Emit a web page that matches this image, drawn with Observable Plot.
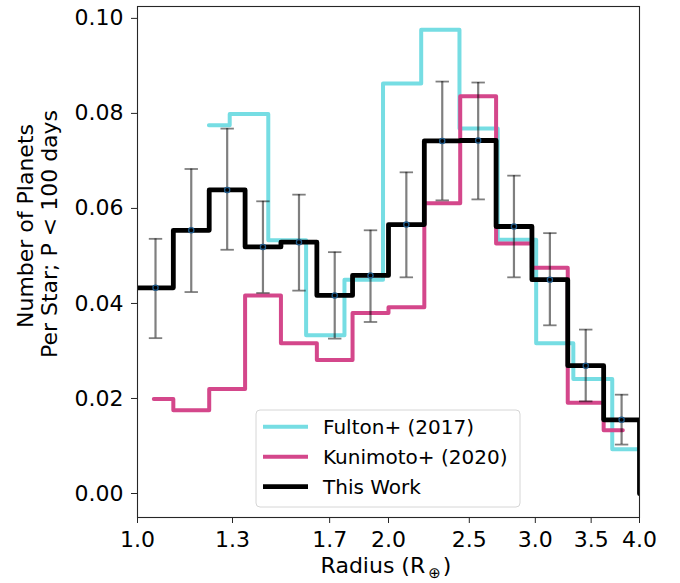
<!DOCTYPE html>
<html>
<head>
<meta charset="utf-8">
<script src="https://cdn.jsdelivr.net/npm/d3@7"></script>
<script src="https://cdn.jsdelivr.net/npm/@observablehq/plot@0.6"></script>
<style>
  html, body { margin: 0; padding: 0; background: #fff; }
  #chart { width: 680px; height: 583px; }
</style>
</head>
<body>
<div id="chart"></div>
<script>
// ---- data ----
// This Work: bin edges (R_earth) and occurrence per bin
const workEdges = [1.0, 1.104, 1.219, 1.346, 1.486, 1.641, 1.811, 2.0, 2.208, 2.438, 2.692, 2.972, 3.281, 3.623, 4.0];
const workValues = [0.0433, 0.0554, 0.0639, 0.0519, 0.0529, 0.0417, 0.0459, 0.0566, 0.0742, 0.0743, 0.0562, 0.0450, 0.0269, 0.0155];
const workCenters = [1.051, 1.160, 1.281, 1.414, 1.562, 1.724, 1.903, 2.101, 2.320, 2.562, 2.828, 3.123, 3.448, 3.807];
const workErrHi = [0.0536, 0.0683, 0.0768, 0.0615, 0.0629, 0.0508, 0.0554, 0.0676, 0.0867, 0.0865, 0.0669, 0.0548, 0.0345, 0.0208];
const workErrLo = [0.0327, 0.0424, 0.0513, 0.0422, 0.0427, 0.0326, 0.0361, 0.0455, 0.0617, 0.0619, 0.0455, 0.0354, 0.0194, 0.0103];

// Fulton+ (2017): step edges and values
const fultonEdges = [1.218, 1.290, 1.435, 1.593, 1.771, 1.970, 2.189, 2.433, 2.704, 3.007, 3.332, 3.710, 3.98];
const fultonValues = [0.0775, 0.0799, 0.0533, 0.0333, 0.0450, 0.0863, 0.0976, 0.0768, 0.0534, 0.0316, 0.0241, 0.0093];

// Kunimoto+ (2020): step edges and values
const kuniEdges = [1.046, 1.104, 1.219, 1.346, 1.486, 1.641, 1.811, 2.0, 2.208, 2.438, 2.692, 2.972, 3.281, 3.623, 3.82];
const kuniValues = [0.0199, 0.0175, 0.0220, 0.0417, 0.0316, 0.0281, 0.0380, 0.0392, 0.0611, 0.0836, 0.0526, 0.0475, 0.0191, 0.0133];

const xTicks = [1.0, 1.3, 1.7, 2.0, 2.5, 3.0, 3.5, 4.0];
const yTicks = [0.00, 0.02, 0.04, 0.06, 0.08, 0.10];

const legendLabels = ["Fulton+ (2017)", "Kunimoto+ (2020)", "This Work"];
const colors = {fulton: "#76dde3", kuni: "#d4478b", work: "#000000"};

// ---- build step tables ----
function stepTable(edges, values, closeToZero) {
  const pts = values.map((v, i) => ({x: edges[i], y: v}));
  pts.push({x: edges[edges.length - 1], y: values[values.length - 1]});
  if (closeToZero) pts.push({x: edges[edges.length - 1], y: 0});
  return pts;
}
const fultonPts = stepTable(fultonEdges, fultonValues, false);
const kuniPts = stepTable(kuniEdges, kuniValues, false);
const workPts = stepTable(workEdges, workValues, true);
const errTable = workCenters.map((c, i) => ({x: c, y: workValues[i], lo: workErrLo[i], hi: workErrHi[i]}));

// horizontal cap symbol for error bars
const capSymbol = {
  draw(ctx, size) {
    const r = Math.sqrt(size / Math.PI);
    ctx.moveTo(-r, 0);
    ctx.lineTo(r, 0);
  }
};

const chart = Plot.plot({
  width: 680,
  height: 583,
  marginLeft: 137,
  marginRight: 41,
  marginTop: 6,
  marginBottom: 66,
  x: {type: "log", domain: [1, 4]},
  y: {domain: [-0.00505, 0.1025]},
  style: {fontFamily: "DejaVu Sans", fontSize: "22px", color: "#000", background: "#fff"},
  marks: [
    Plot.line(fultonPts, {x: "x", y: "y", curve: "step-after", stroke: colors.fulton, strokeWidth: 4, strokeLinejoin: "round", clip: true}),
    Plot.line(kuniPts, {x: "x", y: "y", curve: "step-after", stroke: colors.kuni, strokeWidth: 4, strokeLinejoin: "round", clip: true}),
    Plot.line(workPts, {x: "x", y: "y", curve: "step-after", stroke: colors.work, strokeWidth: 4.8, strokeLinejoin: "round", clip: true}),
    Plot.ruleX(errTable, {x: "x", y1: "lo", y2: "hi", stroke: "#000", strokeOpacity: 0.5, strokeWidth: 2.2}),
    Plot.dot(errTable, {x: "x", y: "lo", symbol: capSymbol, r: 6.7, stroke: "#000", strokeOpacity: 0.5, strokeWidth: 1.8, fill: "none"}),
    Plot.dot(errTable, {x: "x", y: "hi", symbol: capSymbol, r: 6.7, stroke: "#000", strokeOpacity: 0.5, strokeWidth: 1.8, fill: "none"}),
    Plot.dot(errTable, {x: "x", y: "y", r: 2.6, stroke: "#1f5a8a", strokeWidth: 1.3, fill: "none"}),
    Plot.frame({stroke: "#262626", strokeWidth: 1.1}),
    Plot.axisX({ticks: xTicks, tickFormat: d3.format(".1f"), tickSize: 6, tickPadding: 8, label: null, stroke: "#262626"}),
    Plot.axisY({ticks: yTicks, tickFormat: d3.format(".2f"), tickSize: 6, tickPadding: 8, label: null, stroke: "#262626"})
  ]
});

document.getElementById("chart").appendChild(chart);

// ---- labels and legend ----
const svg = d3.select(chart);
const ff = "DejaVu Sans";

// y-axis label (two lines)
svg.append("text")
  .attr("transform", "translate(33,226) rotate(-90)")
  .attr("text-anchor", "middle")
  .attr("font-family", ff).attr("font-size", 22).attr("fill", "#000")
  .text("Number of Planets");
svg.append("text")
  .attr("transform", "translate(57,234) rotate(-90)")
  .attr("text-anchor", "middle")
  .attr("font-family", ff).attr("font-size", 22).attr("fill", "#000")
  .text("Per Star; P < 100 days");

// x-axis label with subscript
const xl = svg.append("text")
  .attr("x", 386).attr("y", 573)
  .attr("text-anchor", "middle")
  .attr("font-family", ff).attr("font-size", 22).attr("fill", "#000");
xl.append("tspan").text("Radius (R");
xl.append("tspan").attr("font-size", 15).attr("dy", 5).attr("dx", 3).text("⊕");
xl.append("tspan").attr("dy", -5).attr("dx", 2).text(")");

// legend
const lg = svg.append("g");
lg.append("rect")
  .attr("x", 256).attr("y", 410).attr("width", 264).attr("height", 97)
  .attr("rx", 4).attr("fill", "#fff").attr("fill-opacity", 0.8)
  .attr("stroke", "#d6d6d6").attr("stroke-width", 1);
const legendColors = [colors.fulton, colors.kuni, colors.work];
const legendWidths = [4, 4, 4.8];
legendLabels.forEach((lab, i) => {
  const cy = 426.7 + i * 30;
  lg.append("line")
    .attr("x1", 263).attr("x2", 308).attr("y1", cy).attr("y2", cy)
    .attr("stroke", legendColors[i]).attr("stroke-width", legendWidths[i]);
  lg.append("text")
    .attr("x", 323).attr("y", cy).attr("dy", "0.36em")
    .attr("text-anchor", "start")
    .attr("font-family", ff).attr("font-size", 20).attr("fill", "#000")
    .text(lab);
});
</script>
</body>
</html>
